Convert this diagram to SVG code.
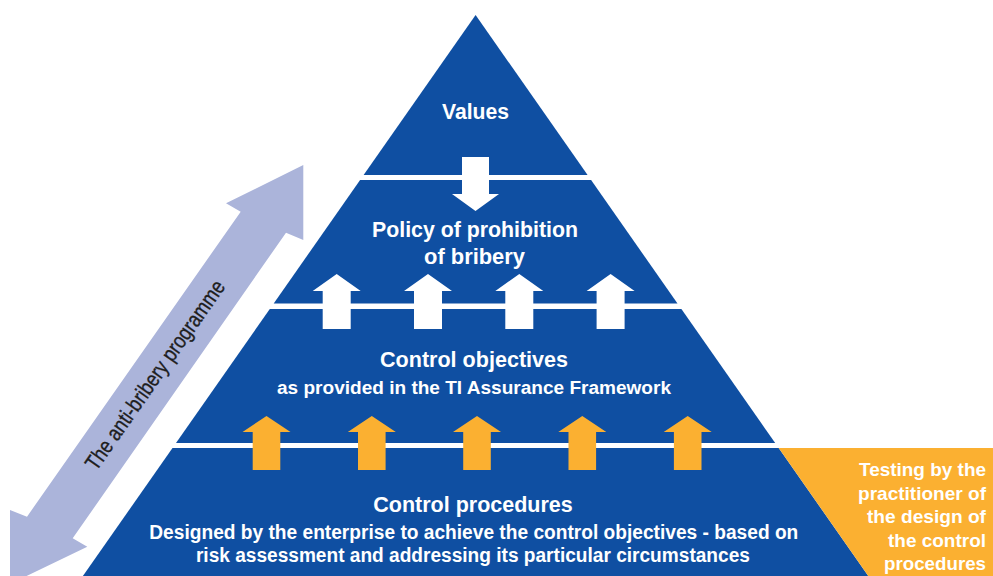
<svg xmlns="http://www.w3.org/2000/svg" xmlns:xlink="http://www.w3.org/1999/xlink" width="993" height="576" viewBox="0 0 993 576">
  <style>
    .band { fill: #0F4FA2; }
    .orange { fill: #FBB031; }
    .wtxt { fill: #FFFFFF; font-family: "Liberation Sans", Arial, sans-serif; font-weight: bold; text-anchor: middle; }
    .rtxt { fill: #FFFFFF; font-family: "Liberation Sans", Arial, sans-serif; font-weight: bold; text-anchor: end; font-size: 19px; }
    .ltxt { fill: #1E1E1E; stroke: #1E1E1E; stroke-width: 0.35; font-family: "Liberation Sans", Arial, sans-serif; text-anchor: middle; font-size: 22px; }
    .warrow { fill: #FFFFFF; }
    .oarrow { fill: #FBB031; }
  </style>
  <defs>
    <path id="upW" d="M0,0 L24,17 L14,17 L14,55 L-14,55 L-14,17 L-24,17 Z"/>
    <path id="upO" d="M0,0 L24,16 L13.8,16 L13.8,54 L-13.8,54 L-13.8,16 L-24,16 Z"/>
  </defs>
  <rect width="993" height="576" fill="#FFFFFF"/>

  <g id="programme-arrow">
    <polygon points="303.3,165 303.3,240 286,232.7 72.7,538.3 87.3,546.7 10,584 10,510 27,516.7 240.7,211.7 226,203.3" fill="#ABB4DA"/>
    <text class="ltxt" transform="translate(155,375) rotate(-55)" x="0" y="7.5" textLength="226" lengthAdjust="spacingAndGlyphs">The anti-bribery programme</text>
  </g>

  <g id="values">
    <polygon class="band" points="475.6,15 587.6,175 363.6,175"/>
    <text class="wtxt" x="475.5" y="119" font-size="22" textLength="67" lengthAdjust="spacingAndGlyphs">Values</text>
  </g>

  <g id="policy">
    <polygon class="band" points="360.1,180 591.1,180 677.5,303.5 273.7,303.5"/>
    <text class="wtxt" x="475" y="237" font-size="22" textLength="206" lengthAdjust="spacingAndGlyphs">Policy of prohibition</text>
    <text class="wtxt" x="474.5" y="264" font-size="22" textLength="101" lengthAdjust="spacingAndGlyphs">of bribery</text>
  </g>

  <g id="control-objectives">
    <polygon class="band" points="269.8,309 681.4,309 775.2,443 176,443"/>
    <text class="wtxt" x="474" y="366.5" font-size="21.5" textLength="188" lengthAdjust="spacingAndGlyphs">Control objectives</text>
    <text class="wtxt" x="474" y="394" font-size="18" textLength="394" lengthAdjust="spacingAndGlyphs">as provided in the TI Assurance Framework</text>
  </g>

  <g id="control-procedures">
    <polygon class="band" points="172.5,448 778.7,448 868.3,576 82.9,576"/>
    <text class="wtxt" x="473" y="511.5" font-size="22" textLength="199.5" lengthAdjust="spacingAndGlyphs">Control procedures</text>
    <text class="wtxt" x="473.8" y="539" font-size="19.5" textLength="649" lengthAdjust="spacingAndGlyphs">Designed by the enterprise to achieve the control objectives - based on</text>
    <text class="wtxt" x="472.9" y="561.5" font-size="19.5" textLength="554" lengthAdjust="spacingAndGlyphs">risk assessment and addressing its particular circumstances</text>
  </g>

  <g id="testing">
    <polygon class="orange" points="778.7,448 993,448 993,576 868.3,576"/>
    <text class="rtxt" x="986" y="476" textLength="127" lengthAdjust="spacingAndGlyphs">Testing by the</text>
    <text class="rtxt" x="986" y="499.5" textLength="128" lengthAdjust="spacingAndGlyphs">practitioner of</text>
    <text class="rtxt" x="986" y="523" textLength="119" lengthAdjust="spacingAndGlyphs">the design of</text>
    <text class="rtxt" x="986" y="546.5" textLength="98" lengthAdjust="spacingAndGlyphs">the control</text>
    <text class="rtxt" x="986" y="570" textLength="102" lengthAdjust="spacingAndGlyphs">procedures</text>
  </g>

  <g id="connectors">
    <polygon class="warrow" points="462,157 489,157 489,194 499,194 475.5,211 452,194 462,194"/>
    <use xlink:href="#upW" class="warrow" transform="translate(336.7,274)"/>
    <use xlink:href="#upW" class="warrow" transform="translate(428,274)"/>
    <use xlink:href="#upW" class="warrow" transform="translate(519.3,274)"/>
    <use xlink:href="#upW" class="warrow" transform="translate(610.6,274)"/>
    <use xlink:href="#upO" class="oarrow" transform="translate(266.5,416)"/>
    <use xlink:href="#upO" class="oarrow" transform="translate(371.8,416)"/>
    <use xlink:href="#upO" class="oarrow" transform="translate(477,416)"/>
    <use xlink:href="#upO" class="oarrow" transform="translate(582.3,416)"/>
    <use xlink:href="#upO" class="oarrow" transform="translate(687.7,416)"/>
  </g>
</svg>
